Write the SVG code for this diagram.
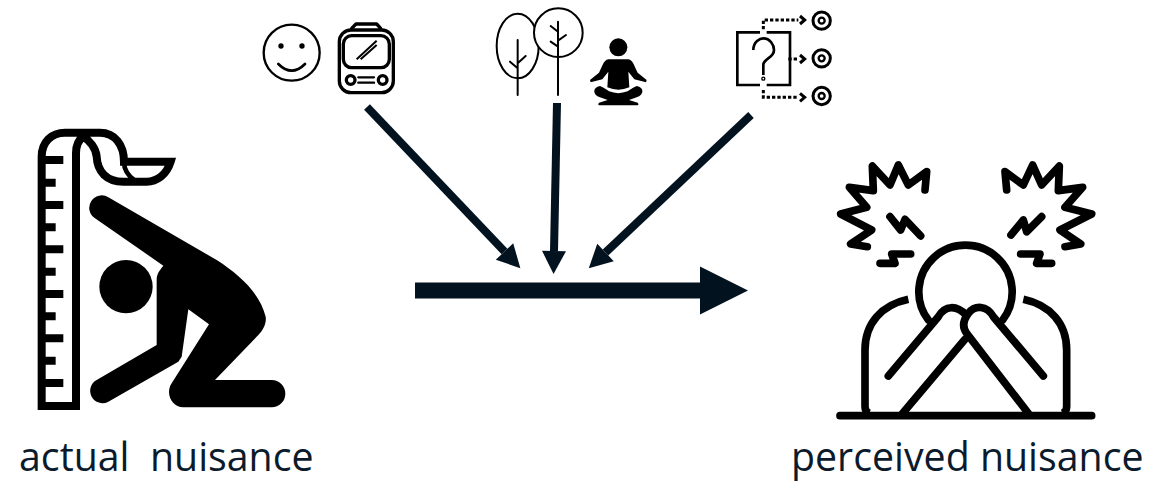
<svg xmlns="http://www.w3.org/2000/svg" width="1150" height="481" viewBox="0 0 1150 481">
<style>
.lbl{font-family:"Open Sans","Noto Sans",sans-serif;font-size:39.3px;fill:#0c1b2b;white-space:pre}
.conn{stroke:#03121f;fill:none}
.ln{fill:none;stroke:#000;stroke-linecap:round;stroke-linejoin:round}
.sq{fill:none;stroke:#000;stroke-linecap:butt;stroke-linejoin:miter}
.bk{fill:#000;stroke:none}
</style>
<defs>
<marker id="headS" markerUnits="userSpaceOnUse" markerWidth="26" markerHeight="28" refX="0" refY="14" orient="auto" overflow="visible"><path d="M0 2L23 14L0 26Z" fill="#03121f"/></marker>
<marker id="headL" markerUnits="userSpaceOnUse" markerWidth="50" markerHeight="50" refX="0" refY="25" orient="auto" overflow="visible"><path d="M0 1L48 25L0 49Z" fill="#03121f"/></marker>
</defs>
<g id="connectors">
<line class="conn" x1="415" y1="290.5" x2="700" y2="290.5" stroke-width="16" marker-end="url(#headL)"/>
<line class="conn" x1="367" y1="107" x2="504.5" y2="251.5" stroke-width="8" marker-end="url(#headS)"/>
<line class="conn" x1="557" y1="103" x2="554" y2="251" stroke-width="8" marker-end="url(#headS)"/>
<line class="conn" x1="751" y1="115" x2="605.5" y2="252.5" stroke-width="8" marker-end="url(#headS)"/>
</g>
<g id="actual-nuisance">
<g transform="translate(0 90) scale(.33333)">
<path class="sq" stroke-width="24" d="M125 948V200C125 155 155 128 195 128H300C345 128 372 165 372 215H512C500 255 470 275 440 275H370C320 275 292 245 290 200C288 175 268 150 250 140C235 150 228 170 228 190V948Z"/>
<path class="sq" stroke-width="14" d="M372 215C372 240 385 258 405 272"/>
<path class="sq" stroke-width="24" d="M125 210H190M125 278H167M125 345H190M125 412H167M125 478H190M125 545H167M125 612H190M125 679H167M125 745H190M125 812H167M125 879H190"/>
<path class="bk" d="M325 322L650 510C720 555 780 610 797 680C800 700 790 720 775 735L645 870H815A41 41 0 0 1 815 952H550C515 952 495 910 515 880L627 703L565 658L545 800L535 815L325 935A35 35 0 0 1 290 870L470 765V570C470 550 480 540 490 527L285 385A35 35 0 0 1 325 322Z"/>
<circle class="bk" cx="378" cy="590" r="80"/>
</g>
<text class="lbl" x="19" y="471" xml:space="preserve">actual  nuisance</text>
</g>
<g id="perceived-nuisance">
<g transform="translate(810 150) scale(.33333)">
<g class="ln" stroke-width="23">
<path d="M90 797H845"/>
<path d="M355 510A140 140 0 1 1 578 510"/>
<path class="sq" d="M295 448C215 465 165 520 165 600V770Q165 785 178 790"/>
<path class="sq" d="M640 448C720 465 770 520 770 600V770Q770 785 757 790"/>
<path d="M235 678L385 500C405 465 440 465 468 495"/>
<path d="M465 568L278 790"/>
<path d="M700 678L550 500C530 465 495 465 475 490C460 510 455 530 470 550L655 790"/>
<path d="M345 120L350 65L295 105L265 45L240 105L187 48L190 122L118 112L170 172L92 192L185 240L122 282L172 290"/>
<path d="M590 120L585 65L640 105L668 45L695 105L748 48L745 122L818 112L765 172L845 192L750 240L812 282L765 290"/>
<path d="M240 200L272 240L285 208L332 258"/>
<path d="M695 200L650 245L640 210L603 255"/>
<path d="M302 312H245L255 340H210"/>
<path d="M632 312H690L680 340H725"/>
</g>
</g>
<text class="lbl" x="791" y="471">perceived nuisance</text>
</g>
<g id="smiley">
<g transform="translate(250 0) scale(.33333)">
<circle class="ln" cx="125" cy="158" r="84" stroke-width="7"/>
<circle class="bk" cx="93" cy="138" r="8"/><circle class="bk" cx="156" cy="138" r="8"/>
<path class="ln" stroke-width="8" d="M85 192Q125 232 165 192"/>
</g>
</g>
<g id="train">
<g transform="translate(250 0) scale(.33333)">
<g class="ln" stroke-width="10">
<rect x="268" y="90" width="162" height="188" rx="35"/>
<rect x="280" y="107" width="138" height="96" rx="25"/>
<path d="M305 85L318 72H380L392 85"/>
<path class="sq" stroke-width="6" d="M320 178L380 122M332 178L380 135"/>
<circle cx="302" cy="240" r="13"/><circle cx="398" cy="240" r="13"/>
<path stroke-width="7" d="M325 232H372M325 248H372"/>
</g>
</g>
</g>
<g id="trees">
<g transform="translate(480 0) scale(.33333)">
<g class="ln" stroke-width="6">
<ellipse cx="113" cy="138" rx="63" ry="97"/>
<circle cx="235" cy="98" r="73" fill="#fff" style="fill:#fff"/>
<path d="M113 120V285M90 185L113 205M137 168L113 190"/>
<path d="M234 65V285M212 78L234 95M258 105L234 122M212 125L234 140"/>
</g>
</g>
</g>
<g id="meditation">
<g transform="translate(585 30) scale(.33333)">
<circle class="bk" cx="100" cy="52" r="27"/>
<path class="bk" d="M70 88H130C145 90 150 115 158 128L185 150L183 157L148 148L130 125L133 172Q100 186 67 172L70 125L52 148L17 157L15 150L42 128C50 115 55 90 70 88Z"/>
<path class="bk" d="M45 168C22 172 22 195 45 202L68 210L42 218Q35 226 48 226H152Q165 226 158 218L132 210L155 202C178 195 178 172 155 168Q135 178 128 184Q100 195 72 184Q65 178 45 168Z"/>
</g>
</g>
<g id="decision">
<g transform="translate(720 0) scale(.33333)">
<g class="sq" stroke-width="8">
<path d="M120 97H52V255H120M140 97H210V255H140"/>
<path d="M100 150C100 125 120 115 130 115C150 115 162 135 162 150C162 175 130 175 130 195V225"/>
<circle cx="130" cy="236" r="4.5" stroke-width="4"/>
<path stroke-width="9" stroke-dasharray="10 6" d="M130 88V60H235M205 177H235M130 270V292H235"/>
<path stroke-width="9" d="M240 48L254 60L240 72M240 165L254 177L240 189M240 280L254 292L240 304"/>
<circle cx="305" cy="62" r="26" stroke-width="9"/><circle cx="305" cy="62" r="9" stroke-width="7"/>
<circle cx="305" cy="175" r="26" stroke-width="9"/><circle cx="305" cy="175" r="9" stroke-width="7"/>
<circle cx="305" cy="288" r="26" stroke-width="9"/><circle cx="305" cy="288" r="9" stroke-width="7"/>
</g>
</g>
</g>
</svg>
